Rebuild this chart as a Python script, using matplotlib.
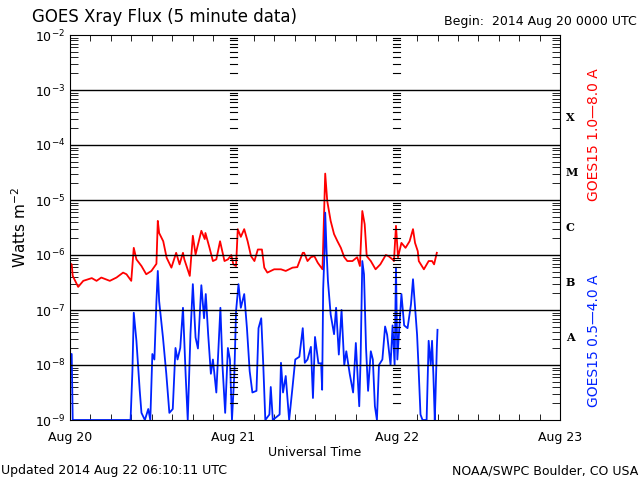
import numpy as np
import matplotlib
matplotlib.use("Agg")
import matplotlib.pyplot as plt
from matplotlib.ticker import FixedLocator, NullFormatter

# hours since 2014 Aug 20 00:00 UTC, log10 flux (W/m^2)
long_hours = [0.0, 0.25, 0.4, 1.2, 1.95, 3.2, 3.9, 4.6, 5.85, 6.83, 7.8, 8.3, 9.0, 9.37, 9.76,
              10.5, 11.2, 11.96, 12.7, 12.9, 13.1, 13.7, 14.2, 14.9, 15.6, 16.1, 16.6, 16.8,
              17.6, 18.05, 18.45, 19.3, 19.8, 19.9, 20.5, 21.0, 21.5, 22.05, 22.7, 23.2, 23.7,
              24.0, 24.4, 24.65, 25.1, 25.6, 26.1, 26.6, 27.1, 27.6, 28.2, 28.55, 29.0, 30.0,
              31.0, 31.7, 32.7, 33.4, 34.2, 34.4, 34.9, 35.4, 35.9, 36.4, 37.1, 37.5, 37.8,
              38.3, 38.8, 39.3, 39.8, 40.3, 40.75, 41.5, 42.2, 42.6, 42.95, 43.3, 43.6, 44.2,
              44.9, 45.6, 46.4, 46.8, 47.4, 47.6, 47.9, 48.2, 48.7, 49.3, 49.9, 50.4, 50.7,
              51.1, 51.25, 52.0, 52.7, 53.2, 53.5, 53.9]
long_log = [-6.15, -6.17, -6.38, -6.58, -6.47, -6.42, -6.47, -6.41, -6.47, -6.41, -6.32, -6.35,
            -6.47, -5.87, -6.08, -6.2, -6.35, -6.29, -6.16, -5.38, -5.6, -5.75, -6.05, -6.23,
            -5.96, -6.17, -5.96, -6.08, -6.38, -5.65, -5.99, -5.56, -5.71, -5.6, -5.87, -6.11,
            -6.08, -5.75, -6.11, -6.08, -6.0, -6.17, -6.2, -5.53, -5.67, -5.53, -5.75, -6.02,
            -6.11, -5.9, -5.9, -6.23, -6.32, -6.26, -6.26, -6.29, -6.23, -6.22, -5.96, -5.96,
            -6.11, -6.04, -6.02, -6.14, -6.26, -4.52, -5.02, -5.38, -5.62, -5.75, -5.87, -6.04,
            -6.11, -6.11, -6.04, -6.2, -5.2, -5.44, -6.02, -6.11, -6.26, -6.17, -6.0, -6.02,
            -6.08, -6.11, -5.47, -6.04, -5.78, -5.87, -5.75, -5.53, -5.78, -5.93, -6.11, -6.26,
            -6.11, -6.11, -6.17, -5.96]

short_hours = [0.0, 0.25, 0.4, 5.0, 8.9, 9.17, 9.37, 9.76, 10.0, 10.25, 10.5, 11.0, 11.5, 11.8,
               12.1, 12.4, 12.7, 12.9, 13.1, 13.66, 14.15, 14.6, 15.1, 15.5, 15.8, 16.2, 16.6,
               17.0, 17.3, 17.7, 18.05, 18.45, 18.8, 19.3, 19.7, 19.95, 20.3, 20.7, 21.0, 21.5,
               21.9, 22.1, 22.4, 22.8, 23.2, 23.5, 23.8, 24.15, 24.4, 24.76, 25.1, 25.6, 26.0,
               26.4, 26.8, 27.4, 27.7, 28.1, 28.4, 28.7, 29.3, 29.5, 29.8, 30.8, 31.0, 31.3,
               31.7, 32.2, 32.7, 33.1, 33.7, 34.2, 34.5, 34.9, 35.4, 35.7, 36.0, 36.5, 36.9,
               37.05, 37.2, 37.4, 37.5, 37.7, 37.9, 38.3, 38.8, 39.1, 39.5, 39.9, 40.3, 40.6,
               41.1, 41.6, 42.0, 42.5, 42.7, 42.95, 43.2, 43.5, 43.8, 44.2, 44.5, 44.8, 45.1,
               45.4, 45.9, 46.3, 46.6, 47.1, 47.4, 47.7, 47.9, 48.1, 48.4, 48.7, 49.1, 49.6,
               50.1, 50.4, 50.7, 51.0, 51.2, 51.5, 51.8, 52.4, 52.7, 53.0, 53.2, 53.4, 53.6,
               53.7, 53.9, 54.0]
short_log = [-7.8, -7.8, -9.0, -9.0, -9.0, -8.11, -7.05, -7.56, -8.0, -8.47, -8.87, -9.0, -8.8,
             -9.0, -7.8, -7.9, -6.84, -6.29, -6.84, -7.5, -8.16, -8.87, -8.8, -7.69, -7.9, -7.69,
             -6.96, -8.2, -9.0, -7.44, -6.53, -7.5, -7.7, -6.55, -7.15, -6.71, -7.44, -8.16,
             -7.9, -8.5, -7.5, -6.96, -8.0, -8.87, -7.69, -7.9, -9.0, -8.16, -7.02, -6.53,
             -6.96, -6.71, -7.33, -8.11, -8.5, -8.47, -7.33, -7.15, -8.0, -9.0, -8.9, -8.4,
             -9.0, -8.9, -7.96, -8.5, -8.2, -9.0, -8.4, -7.9, -7.85, -7.33, -7.96, -7.9, -7.67,
             -8.6, -7.49, -7.97, -7.97, -8.45, -6.62, -5.93, -5.23, -5.93, -6.47, -7.08, -7.44,
             -6.96, -7.81, -7.0, -8.0, -7.75, -8.16, -8.5, -7.6, -8.75, -7.9, -6.11, -6.35,
             -7.69, -8.47, -7.75, -7.9, -8.75, -9.0, -8.0, -7.9, -7.3, -7.45, -8.0, -7.28, -8.0,
             -6.23, -7.9, -7.3, -6.71, -7.28, -7.33, -6.9, -6.44, -6.95, -7.45, -8.0, -8.9,
             -9.0, -9.0, -7.56, -8.0, -7.56, -8.2, -9.0, -8.6, -7.69, -7.36]

day_labels = ["Aug 20", "Aug 21", "Aug 22", "Aug 23"]
class_labels = ["A", "B", "C", "M", "X"]

fig = plt.figure(figsize=(6.4, 4.8), dpi=100)
ax = fig.add_axes([70/640, 60/480, 490/640, 385/480])

ax.plot(long_hours, 10**np.array(long_log), color="red", lw=1.3)
ax.plot(short_hours, 10**np.array(short_log), color="#0022ff", lw=1.3)

ax.set_yscale("log")
ax.set_ylim(1e-9, 1e-2)
ax.set_xlim(0, 72)

decades = np.arange(-9, -1)
for d in decades[1:-1]:
    ax.axhline(10.0**d, color="black", lw=1)

ax.set_xticks([0, 24, 48, 72])
ax.set_xticklabels(day_labels, fontsize=9)
ax.xaxis.set_minor_locator(FixedLocator(np.arange(0, 73, 3)))
ax.tick_params(axis="x", which="both", direction="in", top=True, pad=8)
ax.tick_params(axis="x", which="major", length=0)
ax.tick_params(axis="x", which="minor", length=4)

ax.set_yticks([10.0**d for d in range(-9, -1)])
ax.set_yticklabels([r"$10^{%d}$" % d for d in range(-9, -1)], fontsize=9)
minors = [m * 10.0**d for d in range(-9, -2) for m in range(2, 10)]
ax.yaxis.set_minor_locator(FixedLocator(minors))
ax.yaxis.set_minor_formatter(NullFormatter())
ax.tick_params(axis="y", which="both", direction="in", right=True)
ax.tick_params(axis="y", which="major", length=0)
ax.tick_params(axis="y", which="minor", length=6)

# log tick marks along day boundaries
for day in [24, 48]:
    for v in minors:
        ax.plot([day - 0.5, day + 0.5], [v, v], color="black", lw=0.8)

ax.set_xlabel("Universal Time", fontsize=9, labelpad=1)
ax.set_ylabel(r"Watts m$^{-2}$", fontsize=11)

for i, lab in enumerate(class_labels):
    ax.text(1.012, (i + 0.5) / 7 + 1 / 7, lab, transform=ax.transAxes, fontsize=8,
            family="serif", weight="bold", va="center")

fig.text(0.928, 0.72, "GOES15 1.0\u20148.0 A", color="red", rotation=90, fontsize=10,
         va="center", ha="center")
fig.text(0.928, 0.29, "GOES15 0.5\u20144.0 A", color="#0022ff", rotation=90, fontsize=10,
         va="center", ha="center")

fig.text(0.05, 0.955, "GOES Xray Flux (5 minute data)", fontsize=12)
fig.text(0.995, 0.948, "Begin:  2014 Aug 20 0000 UTC", fontsize=9, ha="right")
fig.text(0.002, 0.012, "Updated 2014 Aug 22 06:10:11 UTC", fontsize=9)
fig.text(0.998, 0.012, "NOAA/SWPC Boulder, CO USA", fontsize=9, ha="right")

fig.savefig("out.png", dpi=100)
